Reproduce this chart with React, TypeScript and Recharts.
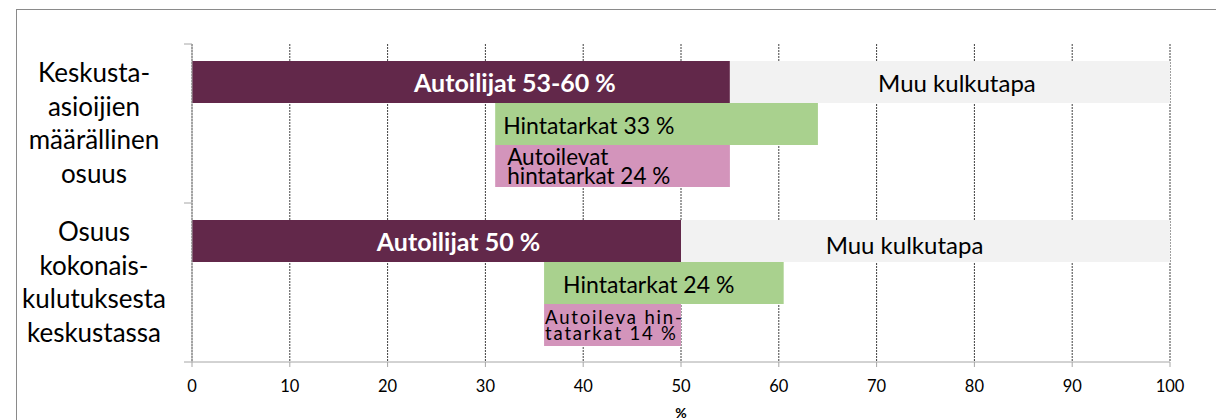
import { BarChart, Bar, XAxis, YAxis, CartesianGrid, LabelList, Label } from "recharts";

// two categories, each with three bar rows
const categories = ["Keskusta-asioijien määrällinen osuus", "Osuus kokonaiskulutuksesta keskustassa"];
const categoryLines = [
  ["Keskusta-", "asioijien", "määrällinen", "osuus"],
  ["Osuus", "kokonais-", "kulutuksesta", "keskustassa"],
];

const autoilijat = [55, 50];
const muuKulkutapa = [45, 50];
const hintatarkat = [
  [31, 64],
  [36, 60.5],
];
const autoilevat = [
  [31, 55],
  [36, 50],
];

const autoilijatLabels = ["Autoilijat 53-60 %", "Autoilijat 50 %"];
const muuLabels = ["Muu kulkutapa", "Muu kulkutapa"];
const hintaLabels = ["Hintatarkat 33 %", "Hintatarkat 24 %"];
const autoilevatLabels = [
  ["Autoilevat", "hintatarkat 24 %"],
  ["Autoileva hin-", "tatarkat 14 %"],
];

const xTicks = [0, 10, 20, 30, 40, 50, 60, 70, 80, 90, 100];

const FONT = "Lato";
const MAROON = "#62284a";
const LIGHT = "#f2f2f2";
const GREEN = "#a9d18e";
const PINK = "#d394bb";
const AXIS = "#a6a6a6";

const data = categories.map((name, i) => ({
  name,
  autoilijat: autoilijat[i],
  muu: muuKulkutapa[i],
  hinta: hintatarkat[i],
  autoilevat: autoilevat[i],
}));

const HALF_BAND = (362 - 44) / 4;

function YTick(p: any) {
  const lines = categoryLines[p.index] || [];
  const cy = Number(p.y);
  return (
    <g>
      {lines.map((t, k) => (
        <text
          key={k}
          x={94}
          y={cy + (k - 1.5) * 33.5 - 1}
          textAnchor="middle"
          dominantBaseline="central"
          fontSize={26}
          fontFamily={FONT}
          fill="#000"
        >
          {t}
        </text>
      ))}
      {p.index === 0 && <line x1={184} x2={192} y1={cy - HALF_BAND} y2={cy - HALF_BAND} stroke={AXIS} />}
      <line x1={184} x2={192} y1={cy + HALF_BAND} y2={cy + HALF_BAND} stroke={AXIS} />
    </g>
  );
}

function XTick(p: any) {
  return (
    <text
      x={p.x}
      y={386}
      textAnchor="middle"
      dominantBaseline="central"
      fontSize={16.5}
      fontFamily={FONT}
      fill="#000"
    >
      {p.payload.value}
    </text>
  );
}

function autoilijatLabel(p: any) {
  const shift = p.index === 0 ? 54 : 22;
  return (
    <text
      x={Number(p.x) + Number(p.width) / 2 + shift}
      y={Number(p.y) + Number(p.height) / 2}
      textAnchor="middle"
      dominantBaseline="central"
      fill="#fff"
      fontWeight={700}
      fontSize={25}
      fontFamily={FONT}
    >
      {autoilijatLabels[p.index]}
    </text>
  );
}

function muuLabel(p: any) {
  const shift = p.index === 0 ? 7 : -21;
  return (
    <text
      x={Number(p.x) + Number(p.width) / 2 + shift}
      y={Number(p.y) + Number(p.height) / 2 + (p.index === 0 ? 0 : 3)}
      textAnchor="middle"
      dominantBaseline="central"
      fill="#000"
      fontSize={24}
      fontFamily={FONT}
    >
      {muuLabels[p.index]}
    </text>
  );
}

function hintaLabel(p: any) {
  const pad = p.index === 0 ? 8 : 19;
  return (
    <text
      x={Number(p.x) + pad}
      y={Number(p.y) + Number(p.height) / 2 + 1}
      dominantBaseline="central"
      fill="#000"
      fontSize={23}
      fontFamily={FONT}
    >
      {hintaLabels[p.index]}
    </text>
  );
}

function autoilevatLabel(p: any) {
  const first = p.index === 0;
  const pad = first ? 12 : 1;
  const size = first ? 22.5 : 18.5;
  const spacing = first ? 0 : 1.8;
  const gap = first ? 19.5 : 16.7;
  const cy = Number(p.y) + Number(p.height) / 2;
  const lines = autoilevatLabels[p.index];
  return (
    <g>
      {lines.map((t, k) => (
        <text
          key={k}
          x={Number(p.x) + pad}
          y={cy + (k - 0.5) * gap}
          dominantBaseline="central"
          fill="#000"
          fontSize={size}
          letterSpacing={spacing}
          fontFamily={FONT}
        >
          {t}
        </text>
      ))}
    </g>
  );
}

export default function App() {
  return (
    <div style={{ position: "absolute", left: 0, top: 0, width: 1216, height: 420, background: "#fff" }}>
      <div
        style={{
          position: "absolute",
          left: 16,
          top: 9,
          width: 1210,
          height: 420,
          borderTop: "1px solid #8a8a8a",
          borderLeft: "1px solid #8a8a8a",
        }}
      />
      <div style={{ position: "absolute", left: 0, top: 0 }}>
        <BarChart
          width={1216}
          height={420}
          data={data}
          layout="vertical"
          margin={{ top: 44, right: 46, bottom: 0, left: 0 }}
          barSize={42}
          barGap={0}
        >
          <CartesianGrid horizontal={false} vertical stroke="#404040" strokeDasharray="2 1" />
          <XAxis
            type="number"
            domain={[0, 100]}
            ticks={xTicks}
            interval={0}
            height={58}
            stroke={AXIS}
            tickSize={5}
            tick={<XTick />}
          >
            <Label
              value="%"
              position="insideBottom"
              offset={2}
              fontSize={14}
              fontWeight={700}
              fontFamily={FONT}
              fill="#000"
            />
          </XAxis>
          <YAxis
            type="category"
            dataKey="name"
            width={192}
            stroke={AXIS}
            tickLine={false}
            tick={<YTick />}
          />
          <Bar dataKey="autoilijat" stackId="a" fill={MAROON} isAnimationActive={false}>
            <LabelList dataKey="autoilijat" content={autoilijatLabel} />
          </Bar>
          <Bar dataKey="muu" stackId="a" fill={LIGHT} isAnimationActive={false}>
            <LabelList dataKey="muu" content={muuLabel} />
          </Bar>
          <Bar dataKey="hinta" fill={GREEN} isAnimationActive={false}>
            <LabelList dataKey="hinta" content={hintaLabel} />
          </Bar>
          <Bar dataKey="autoilevat" fill={PINK} isAnimationActive={false}>
            <LabelList dataKey="autoilevat" content={autoilevatLabel} />
          </Bar>
        </BarChart>
      </div>
    </div>
  );
}
